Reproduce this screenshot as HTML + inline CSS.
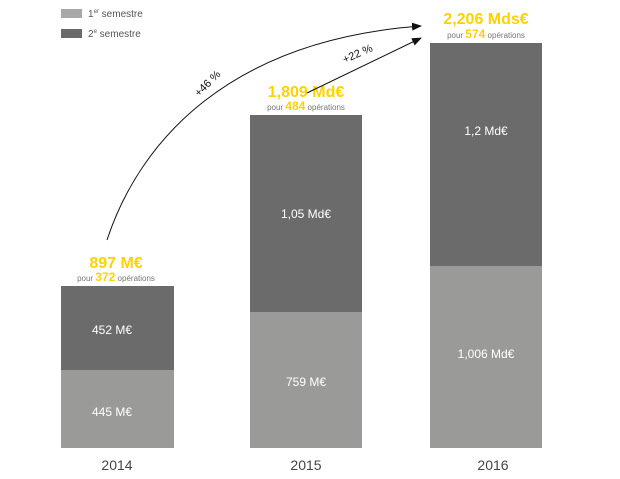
<!DOCTYPE html><html><head><style>body{margin:0;background:#fff;width:620px;height:474px;overflow:hidden}</style></head><body>
<svg width="620" height="474" xmlns="http://www.w3.org/2000/svg" font-family="Liberation Sans, sans-serif">
<defs><marker id="a" markerWidth="10" markerHeight="8" refX="9" refY="4" orient="auto" markerUnits="userSpaceOnUse"><path d="M0,0 L10,4 L0,8 Z" fill="#111"/></marker></defs>
<rect x="61" y="9" width="21" height="9" fill="#a8a8a8"/>
<rect x="61" y="29" width="21" height="9" fill="#6a6a6a"/>
<text x="88" y="17" font-size="10" fill="#555">1<tspan font-size="6" dy="-4">er</tspan><tspan dy="4"> semestre</tspan></text>
<text x="88" y="37" font-size="10" fill="#555">2<tspan font-size="6" dy="-4">e</tspan><tspan dy="4"> semestre</tspan></text>
<rect x="61" y="286" width="113" height="84" fill="#6b6b6b"/>
<rect x="61" y="370" width="113" height="78" fill="#9a9a98"/>
<rect x="250" y="115" width="112" height="197" fill="#6b6b6b"/>
<rect x="250" y="312" width="112" height="136" fill="#9a9a98"/>
<rect x="430" y="43" width="112" height="223" fill="#6b6b6b"/>
<rect x="430" y="266" width="112" height="182" fill="#9a9a98"/>
<g fill="#fff" font-size="12" text-anchor="middle">
<text x="112" y="334">452 M€</text><text x="112" y="416">445 M€</text>
<text x="306" y="218">1,05 Md€</text><text x="306" y="386">759 M€</text>
<text x="486" y="135">1,2 Md€</text><text x="486" y="358">1,006 Md€</text></g>
<g fill="#444" font-size="14" text-anchor="middle">
<text x="117" y="470">2014</text><text x="306" y="470">2015</text><text x="493" y="470">2016</text></g>
<g text-anchor="middle">
<text x="116" y="268" font-size="16" font-weight="bold" fill="#ffd200">897 M€</text>
<text x="116" y="281" font-size="8" fill="#777">pour <tspan font-size="12" font-weight="bold" fill="#ffd200">372</tspan> opérations</text>
<text x="306" y="97" font-size="16" font-weight="bold" fill="#ffd200">1,809 Md€</text>
<text x="306" y="110" font-size="8" fill="#777">pour <tspan font-size="12" font-weight="bold" fill="#ffd200">484</tspan> opérations</text>
<text x="486" y="24" font-size="16" font-weight="bold" fill="#ffd200">2,206 Mds€</text>
<text x="486" y="38" font-size="8" fill="#777">pour <tspan font-size="12" font-weight="bold" fill="#ffd200">574</tspan> opérations</text></g>
<path d="M107,240 C140,140 230,40 421,26" fill="none" stroke="#111" stroke-width="1" marker-end="url(#a)"/>
<path d="M307,93 L421,38" fill="none" stroke="#111" stroke-width="1" marker-end="url(#a)"/>
<text x="210" y="86" font-size="11" fill="#111" transform="rotate(-45 210 86)" text-anchor="middle">+46 %</text>
<text x="359" y="57" font-size="11" fill="#111" transform="rotate(-24 359 57)" text-anchor="middle">+22 %</text>
</svg></body></html>
